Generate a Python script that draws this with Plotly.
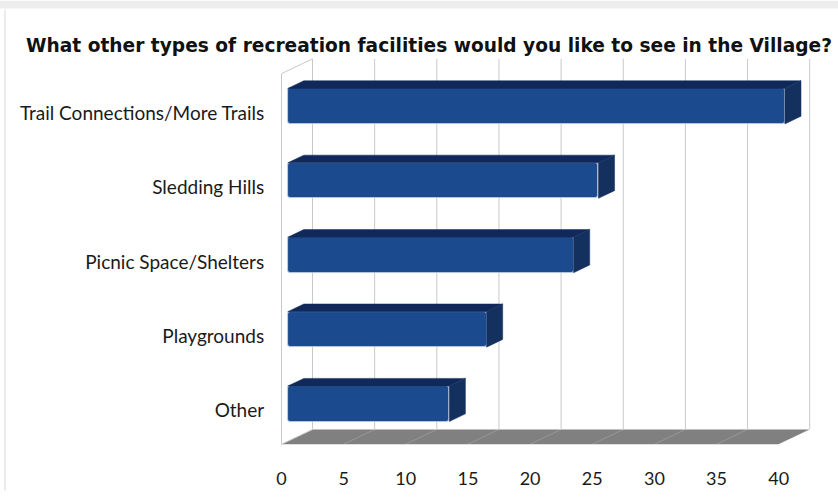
import plotly.graph_objects as go

# ---- data -------------------------------------------------------------
categories = [
    "Trail Connections/More Trails",
    "Sledding Hills",
    "Picnic Space/Shelters",
    "Playgrounds",
    "Other",
]
values = [40, 25, 23, 16, 13]
x_ticks = [0, 5, 10, 15, 20, 25, 30, 35, 40]
title_text = "What other types of recreation facilities would you like to see in the Village?"

# ---- canvas / projection geometry ----------------------------------------
W, H = 838, 497
ML, MR, MT, MB = 270, 8, 50, 32
PX_PER_UNIT = 12.43          # horizontal pixels per value unit
X0_PX = 281.5                # pixel of value 0 on the front plane
ROW_PX = 75.5                # pixels between category rows
ROW0_PX = 114                # pixel of first category row
PLOT_W = W - ML - MR
PLOT_H = H - MT - MB

x_range = [(ML - X0_PX) / PX_PER_UNIT, (W - MR - X0_PX) / PX_PER_UNIT]
y_range = [(H - MB - ROW0_PX) / ROW_PX, (MT - ROW0_PX) / ROW_PX]

# depth vector (front plane -> back wall), in axis units
DX = 31 / PX_PER_UNIT
DY = -15 / ROW_PX
Y_FLOOR = (450 - ROW0_PX) / ROW_PX
Y_TOP = (74 - ROW0_PX) / ROW_PX
X_MAX = max(x_ticks)

# bar solid: front face depth, back face depth, half thickness,
# and vertical offset of the bar relative to its category row
F_FRONT, F_BACK = 0.2, 0.72
HALF = 18 / ROW_PX
BAR_SHIFT = -4 / ROW_PX

FRONT_COL = "#1B4B8E"
TOP_COL = "#11295A"
SIDE_COL = "#14305E"
GRID_COL = "#C9C9C9"
FLOOR_COL = "#808080"


def path(pts):
    return "M " + " L ".join(f"{x},{y}" for x, y in pts) + " Z"


shapes = []

# floor
shapes.append(dict(
    type="path", xref="x", yref="y", layer="below",
    path=path([(0, Y_FLOOR), (X_MAX, Y_FLOOR),
               (X_MAX + DX, Y_FLOOR + DY), (DX, Y_FLOOR + DY)]),
    fillcolor=FLOOR_COL, line=dict(width=0),
))
for t in x_ticks[1:]:
    shapes.append(dict(
        type="line", xref="x", yref="y", layer="below",
        x0=t, y0=Y_FLOOR, x1=t + DX, y1=Y_FLOOR + DY,
        line=dict(color="rgba(255,255,255,0.18)", width=1),
    ))

# left side wall
shapes.append(dict(
    type="path", xref="x", yref="y", layer="below",
    path=path([(0, Y_FLOOR), (0, Y_TOP), (DX, Y_TOP + DY), (DX, Y_FLOOR + DY)]),
    fillcolor="#FFFFFF", line=dict(color=GRID_COL, width=1),
))

# back wall gridlines
for t in x_ticks[1:]:
    shapes.append(dict(
        type="line", xref="x", yref="y", layer="below",
        x0=t + DX, y0=Y_FLOOR + DY, x1=t + DX, y1=Y_TOP + DY,
        line=dict(color=GRID_COL, width=1),
    ))

# page frame: soft gray band on top, thin line on the left
shapes.append(dict(
    type="rect", xref="paper", yref="paper", layer="below",
    x0=(0 - ML) / PLOT_W, x1=(W - ML) / PLOT_W,
    y0=(H - MB - 0) / PLOT_H, y1=(H - MB - 8) / PLOT_H,
    fillcolor="#EDEDED", line=dict(width=0),
))
shapes.append(dict(
    type="line", xref="paper", yref="paper", layer="below",
    x0=(5 - ML) / PLOT_W, x1=(5 - ML) / PLOT_W,
    y0=(H - MB - 9) / PLOT_H, y1=(H - MB - H) / PLOT_H,
    line=dict(color="#D8D8D8", width=1),
))

fig = go.Figure()


def poly(xs, ys, fill):
    fig.add_trace(go.Scatter(
        x=list(xs) + [xs[0]], y=list(ys) + [ys[0]],
        mode="lines", fill="toself", fillcolor=fill,
        line=dict(color=fill, width=0.5),
        hoverinfo="skip", showlegend=False,
    ))


# bar solids: top and right side faces
for i, v in enumerate(values):
    yc = i + BAR_SHIFT
    xf0, xf1 = F_FRONT * DX, v + F_FRONT * DX
    xb0, xb1 = F_BACK * DX, v + F_BACK * DX
    yf_top = yc + F_FRONT * DY - HALF
    yf_bot = yc + F_FRONT * DY + HALF
    yb_top = yc + F_BACK * DY - HALF
    yb_bot = yc + F_BACK * DY + HALF
    poly([xf0, xf1, xb1, xb0], [yf_top, yf_top, yb_top, yb_top], TOP_COL)
    poly([xf1, xb1, xb1, xf1], [yf_top, yb_top, yb_bot, yf_bot], SIDE_COL)

# bar front faces
fig.add_trace(go.Bar(
    orientation="h",
    x=values,
    base=[F_FRONT * DX] * len(values),
    y=[i + BAR_SHIFT + F_FRONT * DY for i in range(len(values))],
    width=2 * HALF,
    marker=dict(color=FRONT_COL, line=dict(color="#C5D0E2", width=0.8),
                cornerradius=3),
    hoverinfo="skip", showlegend=False,
))

fig.update_layout(
    width=W, height=H,
    margin=dict(l=ML, r=MR, t=MT, b=MB),
    paper_bgcolor="#FFFFFF", plot_bgcolor="rgba(0,0,0,0)",
    title=dict(
        text=title_text,
        font=dict(family="DejaVu Sans", size=18.6, color="#111111", weight="bold"),
        x=429 / W, xanchor="center", xref="container",
        y=1 - 45 / H, yanchor="middle", yref="container",
    ),
    xaxis=dict(
        range=x_range, showgrid=False, zeroline=False, showline=False,
        tickmode="array", tickvals=x_ticks, ticktext=[str(t) for t in x_ticks],
        ticks="outside", ticklen=3, tickcolor="rgba(0,0,0,0)",
        tickfont=dict(family="Lato", size=18, color="#1A1A1A"),
        fixedrange=True,
    ),
    yaxis=dict(
        range=y_range, showgrid=False, zeroline=False, showline=False,
        tickmode="array", tickvals=list(range(len(categories))),
        ticktext=categories,
        ticks="outside", ticklen=1, tickcolor="rgba(0,0,0,0)",
        tickfont=dict(family="Lato", size=19, color="#1A1A1A"),
        fixedrange=True,
    ),
    bargap=0,
    shapes=shapes,
)

fig.write_html("out.html")
